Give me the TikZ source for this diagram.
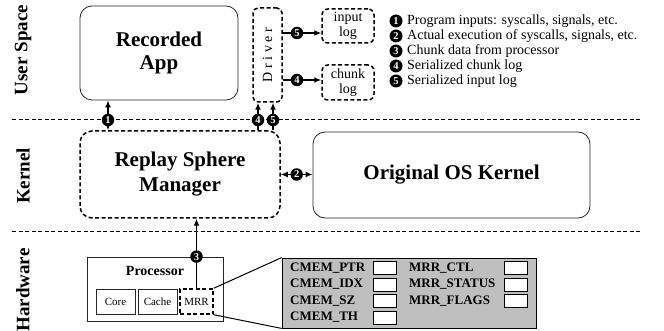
\documentclass[tikz,border=0pt]{standalone}
\usepackage{fontspec}
\setmainfont{Liberation Serif}
\usetikzlibrary{arrows.meta}

\begin{document}
\begin{tikzpicture}[x=1pt,y=-1pt,>={Latex[length=7pt,width=6pt]},
	boite/.style={draw=black!85, line width=0.8pt, rounded corners=12pt, inner sep=0pt, align=center},
	boitetir/.style={draw=black, line width=1.5pt, dash pattern=on 4pt off 2.5pt, rounded corners=10pt, inner sep=0pt, align=center},
	carre/.style={draw=black!85, line width=0.8pt, inner sep=0pt, font=\fontsize{11}{12}\selectfont},
	pastille/.style={circle, fill=black, text=white, inner sep=0pt, minimum size=12.5pt, font=\fontsize{10.5}{10.5}\selectfont\bfseries},
	couche/.style={rotate=90, font=\fontsize{19}{20}\selectfont\bfseries},
	fleche/.style={line width=1.5pt},
	separ/.style={line width=1pt, dash pattern=on 4pt off 2.5pt},
	regtxt/.style={anchor=west, inner sep=1pt, font=\fontsize{13}{14}\selectfont\bfseries},
	regbox/.style={draw=black, fill=white, line width=0.8pt, minimum width=23pt, minimum height=13pt, inner sep=0pt}]
	
	\useasboundingbox (0,0) rectangle (664,331);
	
	% Noms des couches
	\node[couche] (lus) at (23,50) {User Space};
	\node[couche] (lker) at (23,176) {Kernel};
	\node[couche] (lhw) at (23,290) {Hardware};
	
	% Lignes de separation
	\coordinate (s1a) at (12,120);
	\coordinate (s1b) at (640,120);
	\coordinate (s2a) at (12,232);
	\coordinate (s2b) at (640,232);
	\draw[separ] (s1a) -- (s1b);
	\draw[separ] (s2a) -- (s2b);
	
	% Espace utilisateur
	\node[boite, minimum width=158pt, minimum height=94pt, font=\fontsize{21}{23}\selectfont\bfseries] (app) at (159,53) {Recorded\\App};
	\node[boitetir, rounded corners=5pt, minimum width=29pt, minimum height=94pt] (drv) at (267.5,55) {};
	\node[rotate=90, font=\fontsize{14}{15}\selectfont] (drvt) at (drv.center) {D r i v e r};
	\node[boitetir, rounded corners=6pt, minimum width=52pt, minimum height=34pt, font=\fontsize{14}{15}\selectfont] (inlog) at (348,26) {input\\log};
	\node[boitetir, rounded corners=6pt, minimum width=52pt, minimum height=35pt, font=\fontsize{14}{15}\selectfont] (chlog) at (348,82.5) {chunk\\log};
	
	% Legende
	\foreach \n/\t in {1/{Program inputs: syscalls, signals, etc.},
		2/{Actual execution of syscalls, signals, etc.},
		3/{Chunk data from processor},
		4/{Serialized chunk log},
		5/{Serialized input log}} {
		\node[pastille, minimum size=13pt] (leg\n) at (396,{21+15*(\n-1)}) {\n};
		\node[anchor=west, inner sep=1pt, font=\fontsize{14}{15}\selectfont] (legt\n) at (406,{21+15*(\n-1)}) {\t};
	}
	
	% Noyau
	\node[boitetir, minimum width=200pt, minimum height=87pt, rounded corners=12pt, font=\fontsize{21}{25}\selectfont\bfseries] (rsm) at (180,174.5) {Replay Sphere\\Manager};
	\node[boite, minimum width=277pt, minimum height=86pt, font=\fontsize{21}{24}\selectfont\bfseries] (os) at (451.5,175) {Original OS Kernel};
	
	% Materiel
	\node[draw=black!85, line width=0.8pt, minimum width=136pt, minimum height=64pt, inner sep=0pt] (proc) at (155,289) {};
	\node[font=\fontsize{14}{15}\selectfont\bfseries] (proct) at (155,271) {Processor};
	\node[carre, minimum width=39pt, minimum height=25pt] (core) at (115.5,301.5) {Core};
	\node[carre, minimum width=39pt, minimum height=25pt] (cache) at (157.5,301.5) {Cache};
	\node[carre, draw=black, line width=1.5pt, dash pattern=on 4pt off 2.5pt, minimum width=33pt, minimum height=25pt] (mrr) at (196.5,301.5) {MRR};
	
	% Registres du MRR
	\node[draw=black, fill=black!25, line width=0.8pt, minimum width=254pt, minimum height=70pt, inner sep=0pt] (regs) at (409,293) {};
	\draw[line width=1pt] (mrr.north east) -- (regs.north west);
	\draw[line width=1pt] (mrr.south east) -- (regs.south west);
	\foreach \r [count=\i from 0] in {PTR,IDX,SZ,TH} {
		\node[regtxt] (cm\r) at (289,{268+16.5*\i}) {CMEM\_\r};
		\node[regbox] (bcm\r) at (384.5,{268+16.5*\i}) {};
	}
	\foreach \r [count=\i from 0] in {CTL,STATUS,FLAGS} {
		\node[regtxt] (mr\r) at (408,{268+16.5*\i}) {MRR\_\r};
		\node[regbox] (bmr\r) at (515.5,{268+16.5*\i}) {};
	}
	
	% Fleches numerotees
	\coordinate (c1) at (108,120);
	\coordinate (c4) at (258,120);
	\coordinate (c5) at (273,120);
	\coordinate (c4b) at (297,80);
	\coordinate (c5b) at (297,33);
	\draw[fleche, <->] (c1 |- app.south) -- (c1 |- rsm.north);
	\node[pastille] (p1) at (c1) {1};
	\draw[fleche, <->] (rsm.east) -- (rsm.east -| os.west) node[pastille, midway] (p2) {2};
	\draw[fleche, ->] (mrr.north) -- (mrr.north |- rsm.south);
	\node[pastille] (p3) at (mrr.north |- proc.north) {3};
	\draw[fleche, ->] (c4 |- rsm.north) -- (c4 |- drv.south);
	\node[pastille] (p4) at (c4) {4};
	\draw[fleche, ->] (c5 |- rsm.north) -- (c5 |- drv.south);
	\node[pastille] (p5) at (c5) {5};
	\draw[fleche, ->] (drv.east |- c5b) -- (inlog.west |- c5b);
	\node[pastille] (p5b) at (c5b) {5};
	\draw[fleche, ->] (drv.east |- c4b) -- (chlog.west |- c4b);
	\node[pastille] (p4b) at (c4b) {4};
	
\end{tikzpicture}
\end{document}
